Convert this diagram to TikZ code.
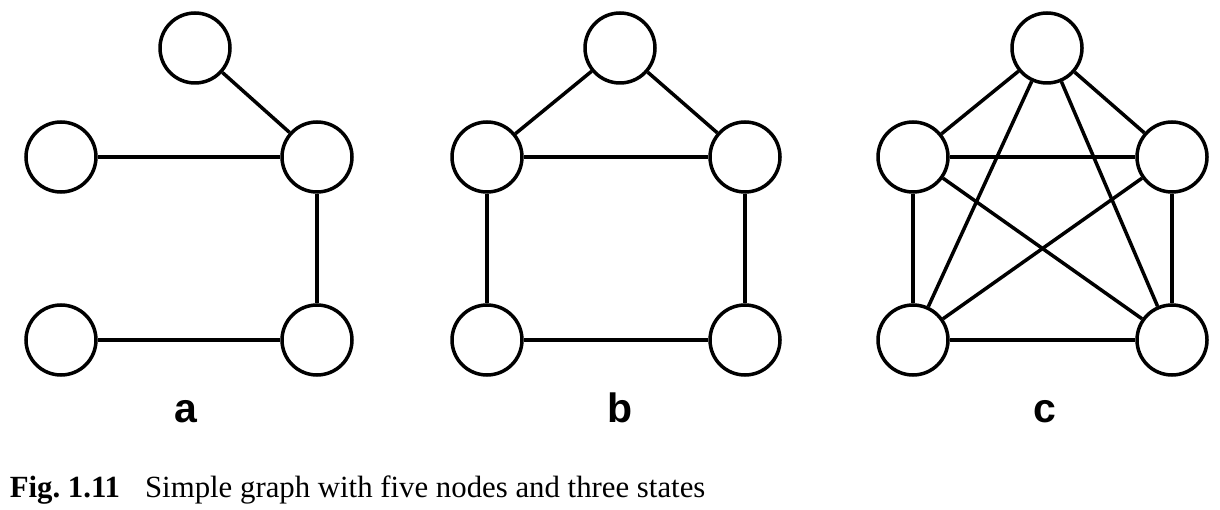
\documentclass[tikz,border=0pt]{standalone}
\usepackage{fontspec}
\setmainfont{Liberation Serif}
\newfontfamily\labelfont{Liberation Sans}
\usetikzlibrary{automata,positioning}

\begin{document}
\begin{tikzpicture}[on grid,line width=3.5pt,
    every state/.style={minimum size=70pt,line width=3.5pt},
    sublabel/.style={font=\labelfont\bfseries\fontsize{41}{41}\selectfont,anchor=base}]
      \useasboundingbox (0pt,0pt) rectangle (1220pt,-510pt);
      % a
      \node[state] (al) at (61pt,-157pt) {};
      \node[state] (ar) [right=256pt of al] {};
      \node[state] (at) [above right=109pt and 134pt of al] {};
      \node[state] (abl) [below=183pt of al] {};
      \node[state] (abr) [right=256pt of abl] {};
      \path (at) edge (ar)
            (al) edge (ar)
            (ar) edge (abr)
            (abl) edge (abr);
      % b
      \node[state] (bl) at (487pt,-157pt) {};
      \node[state] (br) [right=258pt of bl] {};
      \node[state] (bt) [above right=109pt and 133pt of bl] {};
      \node[state] (bbl) [below=183pt of bl] {};
      \node[state] (bbr) [right=258pt of bbl] {};
      \path (bt) edge (bl)
            (bt) edge (br)
            (bl) edge (br)
            (bl) edge (bbl)
            (br) edge (bbr)
            (bbl) edge (bbr);
      % c
      \node[state] (cl) at (913pt,-157pt) {};
      \node[state] (cr) [right=259pt of cl] {};
      \node[state] (ct) [above right=109pt and 134pt of cl] {};
      \node[state] (cbl) [below=183pt of cl] {};
      \node[state] (cbr) [right=259pt of cbl] {};
      \path (ct) edge (cl)
            (ct) edge (cr)
            (ct) edge (cbl)
            (ct) edge (cbr)
            (cl) edge (cr)
            (cl) edge (cbl)
            (cl) edge (cbr)
            (cr) edge (cbl)
            (cr) edge (cbr)
            (cbl) edge (cbr);
      \node[sublabel] (la) at (186pt,-422pt) {a};
      \node[sublabel] (lb) at (620pt,-422pt) {b};
      \node[sublabel] (lc) at (1045pt,-422pt) {c};
      \node[anchor=base west,inner sep=0pt,font=\fontsize{30.8}{31}\selectfont] (cap) at (8pt,-497pt)
        {\textbf{Fig.~1.11}\hspace{25pt}Simple graph with five nodes and three states};
    \end{tikzpicture}
\end{document}
